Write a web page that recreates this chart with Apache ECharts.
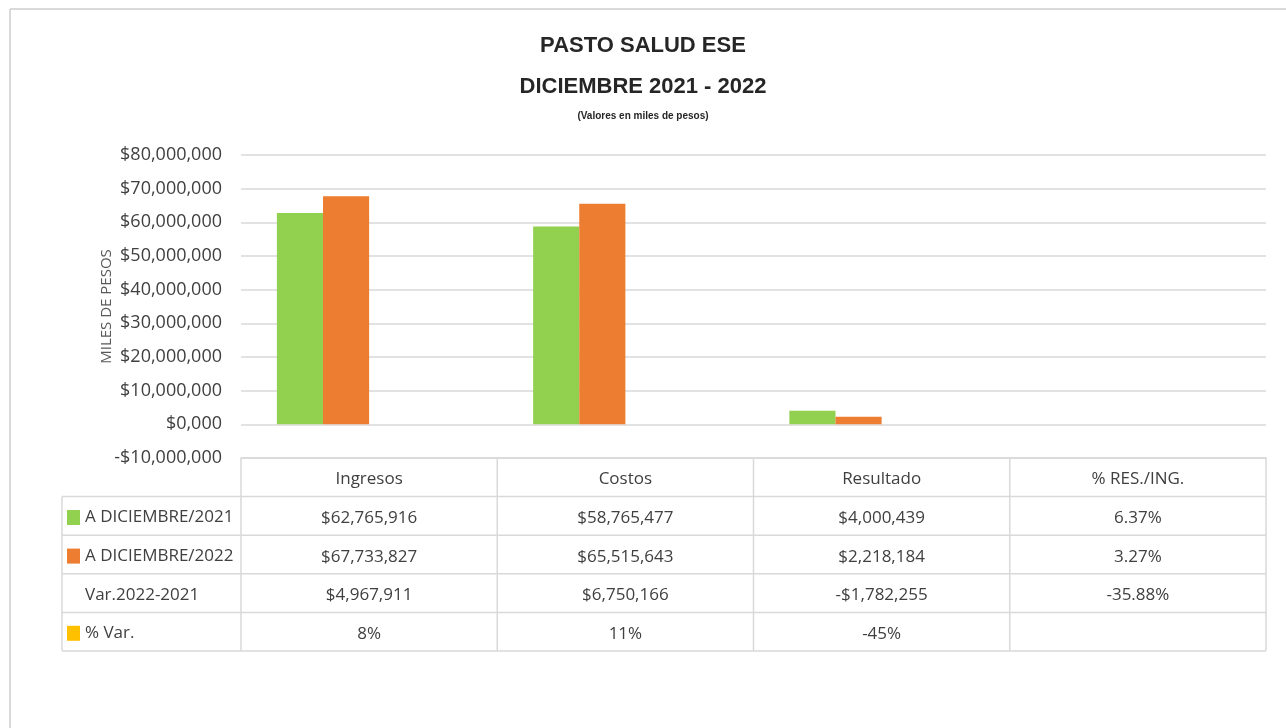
<!DOCTYPE html>
<html>
<head>
<meta charset="utf-8">
<script src="https://cdn.jsdelivr.net/npm/echarts@6/dist/echarts.min.js"></script>
<style>
  html, body { margin: 0; padding: 0; background: #fff; }
  #chart { width: 1286px; height: 728px; }
</style>
</head>
<body>
<div id="chart"></div>
<script>
// datos del grafico
const categorias = ['Ingresos', 'Costos', 'Resultado', '% RES./ING.'];
const nombres = ['A DICIEMBRE/2021', 'A DICIEMBRE/2022', 'Var.2022-2021', '% Var.'];
const dic2021 = [62765916, 58765477, 4000439, 0.0637];
const dic2022 = [67733827, 65515643, 2218184, 0.0327];
const variacion = [4967911, 6750166, -1782255, -0.3588];
const pctVar = [0.08, 0.11, -0.45, null];
const colores = ['#92d050', '#ed7d31', 'rgba(0,0,0,0)', '#ffc000'];
const yTicks = [-10000000, 80000000, 10000000]; // min, max, intervalo

const FONT = '"Open Sans", "DejaVu Sans", sans-serif';
const TFONT = '"Liberation Sans", Arial, sans-serif';
const TXT = '#404040';

function moneda(v) {
  if (v === 0) return '$0,000';
  const s = '$' + Math.abs(v).toLocaleString('en-US');
  return v < 0 ? '-' + s : s;
}
function celda(v, i, dec) {
  if (v === null || v === undefined) return '';
  if (i === 3) return (v * 100).toFixed(dec) + '%';
  return moneda(v);
}
function pct(v) {
  if (v === null || v === undefined) return '';
  return Math.round(v * 100) + '%';
}

const filas = [
  dic2021.map((v, i) => celda(v, i, 2)),
  dic2022.map((v, i) => celda(v, i, 2)),
  variacion.map((v, i) => celda(v, i, 2)),
  pctVar.map(v => pct(v))
];

const gridLeft = 241, gridRight = 20, gridTop = 155, gridBottom = 270;
const rowH = 38.6;

let chart = echarts.init(document.getElementById('chart'));

// ejes x: el primero es el encabezado, los demas son las filas de la tabla
const xAxes = [{
  type: 'category',
  data: categorias,
  position: 'bottom',
  axisLine: { show: true, onZero: false, lineStyle: { color: '#d9d9d9', width: 1.5 } },
  axisTick: { show: false },
  axisLabel: { margin: 13, fontSize: 17, fontFamily: FONT, color: TXT }
}];
filas.forEach((fila, k) => {
  xAxes.push({
    type: 'category',
    data: categorias,
    position: 'bottom',
    offset: rowH * (k + 1),
    axisLine: { show: false },
    axisTick: { show: false },
    axisLabel: {
      margin: 13, fontSize: 17, fontFamily: FONT, color: TXT,
      formatter: (v, i) => fila[i]
    }
  });
});

const serie = (nombre, datos, color) => ({
  name: nombre,
  type: 'bar',
  xAxisIndex: 0,
  data: datos,
  barGap: '0%',
  barCategoryGap: '28%',
  itemStyle: { color: color },
  emphasis: { disabled: true }
});

let option = {
  backgroundColor: '#fff',
  animation: false,
  title: {
    text: 'PASTO SALUD ESE\nDICIEMBRE 2021 - 2022',
    subtext: '(Valores en miles de pesos)',
    left: 'center',
    top: 25,
    padding: [0, 0, 0, 8],
    itemGap: 2,
    textStyle: {
      fontFamily: TFONT, fontWeight: 'bold', fontSize: 22, lineHeight: 41, color: '#262626'
    },
    subtextStyle: {
      fontFamily: TFONT, fontWeight: 'bold', fontSize: 10, lineHeight: 14, color: '#262626'
    }
  },
  legend: {
    orient: 'vertical',
    left: 67,
    top: 509,
    padding: 0,
    selectedMode: false,
    icon: 'rect',
    itemWidth: 13,
    itemHeight: 15,
    itemGap: rowH - 17,
    data: nombres,
    textStyle: { fontSize: 17, lineHeight: 15, fontFamily: FONT, color: TXT }
  },
  grid: { left: gridLeft, right: gridRight, top: gridTop, bottom: gridBottom, containLabel: false },
  xAxis: xAxes,
  yAxis: {
    type: 'value',
    min: yTicks[0],
    max: yTicks[1],
    interval: yTicks[2],
    name: 'MILES DE PESOS',
    nameLocation: 'middle',
    nameRotate: 90,
    nameGap: 127,
    nameMoveOverlap: false,
    nameTextStyle: { fontSize: 15, fontFamily: FONT, color: '#595959' },
    axisLine: { show: false },
    axisTick: { show: false },
    axisLabel: { margin: 19, fontSize: 18, fontFamily: FONT, color: TXT, formatter: moneda },
    splitLine: { lineStyle: { color: '#d9d9d9', width: 1.5 } }
  },
  series: [
    serie(nombres[0], dic2021, colores[0]),
    serie(nombres[1], dic2022, colores[1]),
    serie(nombres[2], variacion, colores[2]),
    serie(nombres[3], pctVar, colores[3])
  ]
};
chart.setOption(option, true);

// lineas de la tabla de datos
function dibujarTabla() {
  const W = chart.getWidth(), H = chart.getHeight();
  const x0 = gridLeft, x1 = W - gridRight, yTop = H - gridBottom;
  const ancho = (x1 - x0) / categorias.length;
  const yFin = yTop + rowH * (filas.length + 1);
  const estilo = { stroke: '#d9d9d9', lineWidth: 1.5 };
  const lineas = [];
  // marco exterior
  lineas.push({ type: 'line', shape: { x1: 10, y1: 9, x2: W, y2: 9 }, style: { stroke: '#d9d9d9', lineWidth: 2 } });
  lineas.push({ type: 'line', shape: { x1: 10, y1: 9, x2: 10, y2: H }, style: { stroke: '#d9d9d9', lineWidth: 2 } });
  for (let k = 1; k <= filas.length + 1; k++) {
    const y = yTop + rowH * k;
    lineas.push({ type: 'line', shape: { x1: 62, y1: y, x2: x1, y2: y }, style: estilo });
  }
  lineas.push({ type: 'line', shape: { x1: 62, y1: yTop + rowH, x2: 62, y2: yFin }, style: estilo });
  for (let c = 0; c <= categorias.length; c++) {
    const x = x0 + ancho * c;
    lineas.push({ type: 'line', shape: { x1: x, y1: yTop, x2: x, y2: yFin }, style: estilo });
  }
  chart.setOption({ graphic: lineas });
}
dibujarTabla();

window.addEventListener('resize', function () {
  chart.resize();
  dibujarTabla();
});
</script>
</body>
</html>
